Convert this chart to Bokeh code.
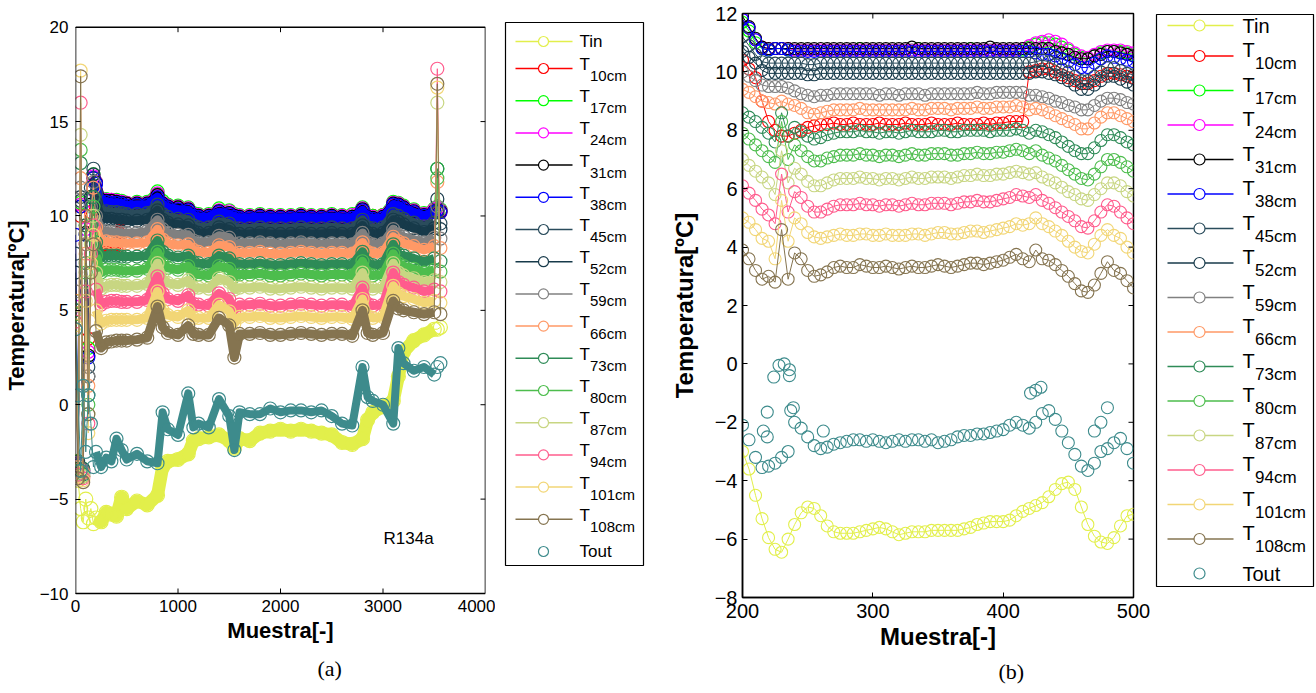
from bokeh.plotting import figure
from bokeh.layouts import row
from bokeh.models import Range1d, FixedTicker, Label, Title
from bokeh.embed import file_html
from bokeh.resources import INLINE
from bokeh.core.properties import value

SANS = "Liberation Sans"
SERIF = "Liberation Serif"

SERIES = ["Tin", "T10cm", "T17cm", "T24cm", "T31cm", "T38cm", "T45cm", "T52cm",
          "T59cm", "T66cm", "T73cm", "T80cm", "T87cm", "T94cm", "T101cm", "T108cm", "Tout"]
COLORS = ["#E2EF4B", "#FF0000", "#00FF00", "#FF00FF", "#000000", "#0000FF", "#2A4C5C", "#173A4A",
          "#808080", "#FF9966", "#2E8B57", "#4DBD4D", "#C8D682", "#FF5C8D", "#F2D676", "#857450", "#3D8B8C"]

# ---------------- panel (a): sample index 0..3560 ----------------
XA = [0, 25, 50, 75, 100, 125, 150, 175, 200,
      250, 300, 350, 400, 450, 500, 600, 700,
      800, 850, 900, 1000, 1100, 1150,
      1200, 1300, 1400, 1500, 1550, 1600, 1700, 1800, 1900, 2000, 2100, 2200, 2300, 2400, 2500, 2600, 2700,
      2800, 2850, 2900, 3000,
      3100, 3150, 3200, 3300, 3400, 3500, 3530, 3560]

A_TIN = [-3.0, -4.0, -5.5, -6.2, -5.0, -6.0, -5.5, -6.3, -6.0,
         -6.2, -5.7, -5.8, -5.9, -4.9, -5.5, -5.1, -5.3,
         -4.8, -3.3, -3.0, -2.9, -2.6, -1.9,
         -1.8, -1.7, -1.6, -1.9, -2.3, -1.8, -1.9, -1.5, -1.4, -1.3, -1.4, -1.3, -1.4, -1.5, -1.6, -2.0, -2.1,
         -1.8, -0.8, -0.4, -0.1,
         0.2, 1.5, 2.8, 3.4, 3.7, 4.0, 4.0, 4.1]
A_T10 = [4.8, -3.4, 10.0, -3.8, 8.5, 3.5, 10.2, 11.5, 10.4,
         8.3, 8.2, 8.2, 8.2, 10.0, 10.0, 10.1, 10.1,
         10.6, 10.3, 10.2, 10.1, 10.0, 9.8,
         9.85, 9.85, 10.1, 10.0, 9.85, 9.8, 9.8, 9.85, 9.8, 9.8, 9.8, 9.85, 9.8, 9.8, 9.85, 9.8, 9.8,
         10.2, 9.9, 10.0, 10.05,
         10.6, 10.55, 10.4, 10.2, 10.0, 10.2, 10.2, 10.2]
A_T17 = [5.5, -3.0, 10.7, -3.4, 9.5, 3.0, 11.0, 12.2, 11.8,
         10.9, 10.9, 10.85, 10.85, 10.8, 10.7, 10.75, 10.75,
         11.3, 10.8, 10.6, 10.55, 10.45, 10.15,
         10.1, 10.1, 10.4, 10.3, 10.1, 10.05, 10.05, 10.1, 10.05, 10.05, 10.05, 10.1, 10.05, 10.05, 10.1, 10.05, 10.1,
         10.45, 10.05, 10.0, 10.05,
         10.75, 10.7, 10.55, 10.35, 10.15, 10.4, 12.5, 10.35]
A_T24 = [5.2, -3.1, 10.6, -3.5, 9.3, 2.8, 10.8, 12.1, 11.8,
         10.9, 10.85, 10.85, 10.8, 10.75, 10.7, 10.7, 10.7,
         11.2, 10.7, 10.55, 10.5, 10.4, 10.1,
         10.05, 10.05, 10.3, 10.25, 10.05, 10.0, 10.0, 10.05, 10.0, 10.0, 10.0, 10.05, 10.0, 10.0, 10.05, 10.0, 10.05,
         10.4, 10.0, 9.95, 10.0,
         10.7, 10.65, 10.5, 10.3, 10.1, 10.35, 10.4, 10.3]
A_T31 = [5.0, -3.2, 10.5, -3.6, 9.1, 2.6, 10.6, 12.0, 11.75,
         10.85, 10.8, 10.8, 10.75, 10.7, 10.65, 10.65, 10.65,
         11.1, 10.65, 10.5, 10.45, 10.35, 10.05,
         10.0, 10.0, 10.25, 10.15, 10.0, 9.95, 9.95, 10.0, 9.95, 9.95, 9.95, 10.0, 9.95, 9.95, 10.0, 9.95, 9.95,
         10.35, 9.95, 9.9, 9.95,
         10.65, 10.6, 10.45, 10.25, 10.05, 10.25, 10.3, 10.25]
A_T38 = [9.0, -3.2, 10.5, -3.6, 9.0, 2.5, 10.5, 12.0, 11.7,
         10.75, 10.75, 10.7, 10.7, 10.65, 10.55, 10.6, 10.6,
         11.0, 10.6, 10.45, 10.35, 10.3, 10.0,
         9.95, 9.95, 10.2, 10.1, 9.95, 9.9, 9.9, 9.95, 9.9, 9.9, 9.9, 9.95, 9.9, 9.9, 9.95, 9.9, 9.9,
         10.3, 9.9, 9.85, 9.9,
         10.6, 10.55, 10.4, 10.2, 10.0, 10.2, 10.3, 10.2]
A_T45 = [8.0, -3.0, 10.8, -3.4, 9.5, 2.0, 11.5, 12.5, 11.2,
         10.25, 10.25, 10.2, 10.2, 10.15, 10.1, 10.1, 10.15,
         10.6, 10.1, 9.95, 9.85, 9.8, 9.5,
         9.4, 9.4, 9.7, 9.6, 9.35, 9.35, 9.35, 9.4, 9.35, 9.35, 9.35, 9.4, 9.35, 9.35, 9.4, 9.35, 9.35,
         9.8, 9.4, 9.35, 9.4,
         10.1, 10.0, 9.85, 9.65, 9.45, 9.65, 10.2, 9.6]
A_T52 = [7.0, -3.1, 11.0, -3.5, 9.0, 1.5, 11.0, 12.2, 10.7,
         9.9, 9.85, 9.85, 9.8, 9.8, 9.75, 9.75, 9.8,
         10.3, 9.8, 9.65, 9.55, 9.5, 9.2,
         9.1, 9.1, 9.4, 9.3, 9.05, 9.05, 9.05, 9.1, 9.05, 9.05, 9.05, 9.1, 9.05, 9.05, 9.1, 9.05, 9.05,
         9.5, 9.1, 9.05, 9.1,
         9.8, 9.7, 9.55, 9.35, 9.15, 9.35, 10.9, 9.3]
A_T59 = [6.0, -3.2, 11.5, -3.5, 8.5, 1.5, 10.5, 11.8, 10.0,
         9.2, 9.2, 9.15, 9.15, 9.1, 9.1, 9.1, 9.2,
         9.8, 9.3, 9.1, 9.0, 9.0, 8.7,
         8.6, 8.6, 8.95, 8.85, 8.5, 8.55, 8.55, 8.6, 8.55, 8.5, 8.55, 8.6, 8.55, 8.5, 8.55, 8.55, 8.5,
         9.1, 8.6, 8.5, 8.55,
         9.3, 9.0, 8.9, 8.75, 8.6, 8.85, 10.5, 8.8]
A_T66 = [5.5, -3.3, 12.0, -3.6, 8.0, 1.0, 10.0, 11.5, 9.4,
         8.6, 8.65, 8.6, 8.6, 8.55, 8.55, 8.55, 8.6,
         9.3, 8.75, 8.55, 8.45, 8.5, 8.2,
         8.1, 8.05, 8.45, 8.35, 8.0, 8.05, 8.05, 8.1, 8.0, 8.0, 8.05, 8.1, 8.05, 8.0, 8.05, 8.05, 8.0,
         8.6, 8.1, 8.0, 8.05,
         8.9, 8.65, 8.55, 8.4, 8.2, 8.4, 11.8, 8.3]
A_T73 = [5.0, -3.4, 12.8, -3.7, 7.5, 0.5, 9.5, 11.0, 8.6,
         7.8, 7.9, 7.9, 7.9, 7.85, 7.85, 7.85, 7.9,
         8.7, 8.1, 7.9, 7.8, 7.9, 7.55,
         7.5, 7.45, 7.9, 7.75, 7.4, 7.45, 7.45, 7.5, 7.4, 7.4, 7.45, 7.5, 7.45, 7.4, 7.45, 7.45, 7.4,
         8.1, 7.5, 7.4, 7.45,
         8.5, 8.0, 7.9, 7.75, 7.55, 7.75, 12.5, 7.6]
A_T80 = [4.8, -3.5, 13.5, -3.8, 7.0, 0.0, 9.0, 10.5, 7.9,
         7.0, 7.15, 7.15, 7.15, 7.1, 7.1, 7.1, 7.2,
         8.1, 7.45, 7.25, 7.15, 7.35, 6.95,
         6.9, 6.85, 7.35, 7.2, 6.8, 6.9, 6.9, 6.95, 6.85, 6.85, 6.9, 6.95, 6.9, 6.85, 6.9, 6.9, 6.85,
         7.6, 6.95, 6.85, 6.9,
         8.0, 7.5, 7.35, 7.2, 7.0, 7.15, 12.0, 7.05]
A_T87 = [4.6, -3.6, 14.3, -3.8, 6.5, -0.5, 8.5, 10.0, 7.0,
         6.15, 6.3, 6.35, 6.35, 6.3, 6.3, 6.3, 6.4,
         7.5, 6.7, 6.45, 6.35, 6.6, 6.2,
         6.2, 6.15, 6.7, 6.5, 6.1, 6.2, 6.2, 6.25, 6.15, 6.15, 6.2, 6.25, 6.2, 6.15, 6.2, 6.2, 6.15,
         7.0, 6.25, 6.15, 6.2,
         7.5, 7.0, 6.85, 6.7, 6.5, 6.6, 16.0, 6.5]
A_T94 = [4.4, -3.7, 16.0, -3.9, 6.0, -1.0, 8.0, 9.5, 6.1,
         5.3, 5.45, 5.5, 5.5, 5.45, 5.45, 5.45, 5.55,
         6.8, 5.9, 5.6, 5.5, 5.8, 5.35,
         5.3, 5.25, 5.9, 5.6, 5.0, 5.3, 5.3, 5.35, 5.25, 5.25, 5.3, 5.35, 5.3, 5.25, 5.3, 5.3, 5.2,
         6.2, 5.35, 5.25, 5.3,
         7.0, 6.5, 6.35, 6.2, 6.0, 6.1, 17.8, 6.0]
A_T101 = [4.2, -3.8, 17.7, -4.0, 5.5, -1.5, 7.5, 9.0, 5.0,
          4.3, 4.45, 4.5, 4.5, 4.5, 4.5, 4.5, 4.6,
          6.0, 5.0, 4.75, 4.65, 5.0, 4.6,
          4.6, 4.6, 5.3, 4.95, 4.3, 4.65, 4.65, 4.7, 4.6, 4.6, 4.65, 4.7, 4.65, 4.6, 4.65, 4.65, 4.55,
          5.6, 4.7, 4.6, 4.65,
          6.3, 5.9, 5.75, 5.6, 5.4, 5.5, 16.8, 5.4]
A_T108 = [4.0, -3.9, 17.4, -4.1, 10.0, -0.5, 7.0, 8.5, 3.9,
          3.0, 3.3, 3.35, 3.4, 3.4, 3.4, 3.45, 3.55,
          5.2, 4.1, 3.8, 3.7, 4.2, 3.75,
          3.7, 3.7, 4.6, 4.2, 2.5, 3.75, 3.75, 3.8, 3.7, 3.7, 3.75, 3.8, 3.75, 3.7, 3.75, 3.75, 3.65,
          5.0, 3.8, 3.7, 3.8,
          5.5, 5.1, 5.0, 4.9, 4.8, 4.9, 17.0, 4.8]
A_TOUT = [4.0, 0.5, -3.5, 1.0, -2.5, 0.5, -1.0, -3.3, -2.5,
          -3.3, -2.8, -3.0, -1.8, -2.4, -2.9, -2.6, -3.0,
          -3.1, -0.4, -1.3, -1.6, 0.6, -1.2,
          -1.0, -1.2, 0.3, -0.6, -2.4, -0.4, -0.5, -0.5, -0.2, -0.4, -0.3, -0.3, -0.4, -0.3, -0.6, -1.0, -1.1,
          2.0, 0.4, 0.2, 0.0,
          -1.0, 3.0, 2.2, 1.8, 2.0, 1.6, 2.0, 2.2]

A_DATA = [A_TIN, A_T10, A_T17, A_T24, A_T31, A_T38, A_T45, A_T52, A_T59, A_T66,
          A_T73, A_T80, A_T87, A_T94, A_T101, A_T108, A_TOUT]

# ---------------- panel (b): sample index 200..500 ----------------
XB = list(range(200, 501, 5))

B_TIN = [-3.0, -3.6, -4.5, -5.3, -5.95, -6.35, -6.45, -6.0, -5.5, -5.1,
         -4.9, -4.95, -5.2, -5.55, -5.75, -5.8, -5.8, -5.8, -5.75, -5.7,
         -5.65, -5.6, -5.65, -5.75, -5.85, -5.8, -5.75, -5.75, -5.75, -5.7,
         -5.7, -5.7, -5.7, -5.7, -5.65, -5.6, -5.5, -5.45, -5.4, -5.4,
         -5.4, -5.35, -5.2, -5.05, -4.95, -4.85, -4.75, -4.55, -4.3, -4.1,
         -4.05, -4.3, -4.9, -5.5, -5.9, -6.1, -6.15, -5.95, -5.55, -5.2,
         -5.15]
B_T10 = [10.4, 10.1, 9.8, 9.0, 8.3, 8.0, 7.8, 7.8, 7.9, 8.0,
         8.1, 8.15, 8.2, 8.2, 8.25, 8.2, 8.2, 8.25, 8.2, 8.2,
         8.2, 8.25, 8.2, 8.2, 8.2, 8.25, 8.2, 8.2, 8.2, 8.25,
         8.2, 8.2, 8.2, 8.25, 8.2, 8.2, 8.2, 8.25, 8.2, 8.25,
         8.25, 8.3, 8.3, 8.3, 10.0, 10.05, 10.1, 10.1, 10.0, 9.9,
         9.8, 9.7, 9.6, 9.6, 9.7, 9.85, 9.95, 9.95, 9.9, 9.85,
         9.8]
B_T17 = [11.7, 11.4, 11.0, 10.8, 10.75, 10.8, 10.8, 10.75, 10.75, 10.75,
         10.75, 10.75, 10.7, 10.75, 10.75, 10.75, 10.75, 10.75, 10.8, 10.75,
         10.75, 10.75, 10.75, 10.75, 10.75, 10.75, 10.75, 10.8, 10.75, 10.75,
         10.75, 10.75, 10.75, 10.75, 10.75, 10.8, 10.75, 10.75, 10.75, 10.75,
         10.75, 10.75, 10.75, 10.75, 10.85, 10.95, 11.0, 11.0, 10.95, 10.85,
         10.75, 10.6, 10.5, 10.45, 10.55, 10.65, 10.7, 10.7, 10.7, 10.65,
         10.6]
B_T24 = [11.8, 11.5, 11.1, 10.85, 10.8, 10.8, 10.8, 10.8, 10.75, 10.75,
         10.75, 10.75, 10.75, 10.75, 10.75, 10.75, 10.75, 10.75, 10.75, 10.75,
         10.75, 10.75, 10.75, 10.75, 10.75, 10.75, 10.75, 10.75, 10.75, 10.75,
         10.75, 10.75, 10.75, 10.75, 10.75, 10.75, 10.75, 10.75, 10.75, 10.75,
         10.75, 10.75, 10.75, 10.8, 10.9, 11.0, 11.05, 11.1, 11.05, 10.95,
         10.8, 10.65, 10.55, 10.5, 10.6, 10.7, 10.75, 10.75, 10.75, 10.7,
         10.65]
B_T31 = [11.9, 11.55, 11.15, 10.85, 10.8, 10.8, 10.8, 10.8, 10.8, 10.8,
         10.8, 10.8, 10.8, 10.8, 10.8, 10.8, 10.8, 10.8, 10.8, 10.8,
         10.8, 10.8, 10.8, 10.8, 10.8, 10.8, 10.85, 10.8, 10.8, 10.8,
         10.8, 10.8, 10.8, 10.8, 10.8, 10.8, 10.8, 10.8, 10.85, 10.8,
         10.8, 10.8, 10.8, 10.8, 10.8, 10.8, 10.8, 10.8, 10.7, 10.65,
         10.6, 10.5, 10.45, 10.45, 10.55, 10.6, 10.7, 10.7, 10.65, 10.6,
         10.55]
B_T38 = [11.8, 11.5, 11.1, 10.8, 10.75, 10.8, 10.8, 10.75, 10.7, 10.7,
         10.7, 10.7, 10.7, 10.7, 10.7, 10.7, 10.7, 10.7, 10.7, 10.7,
         10.7, 10.7, 10.7, 10.7, 10.7, 10.7, 10.7, 10.7, 10.7, 10.7,
         10.7, 10.7, 10.7, 10.7, 10.7, 10.7, 10.7, 10.7, 10.7, 10.7,
         10.7, 10.7, 10.7, 10.7, 10.7, 10.65, 10.6, 10.6, 10.55, 10.45,
         10.35, 10.25, 10.15, 10.15, 10.3, 10.45, 10.55, 10.5, 10.45, 10.4,
         10.35]
B_T45 = [11.2, 10.9, 10.6, 10.35, 10.3, 10.3, 10.3, 10.3, 10.3, 10.3,
         10.25, 10.25, 10.3, 10.3, 10.3, 10.3, 10.3, 10.3, 10.3, 10.3,
         10.3, 10.3, 10.3, 10.3, 10.3, 10.3, 10.3, 10.3, 10.3, 10.3,
         10.3, 10.3, 10.3, 10.3, 10.3, 10.3, 10.3, 10.3, 10.3, 10.3,
         10.3, 10.3, 10.3, 10.3, 10.3, 10.35, 10.4, 10.35, 10.25, 10.1,
         10.0, 9.85, 9.7, 9.7, 9.85, 10.0, 10.15, 10.15, 10.05, 9.95,
         9.9]
B_T52 = [10.7, 10.5, 10.3, 10.05, 9.95, 9.95, 9.95, 9.95, 9.95, 9.95,
         9.9, 9.9, 9.95, 9.95, 9.95, 9.95, 9.95, 9.95, 9.95, 9.95,
         9.95, 9.95, 9.95, 9.95, 9.95, 9.95, 9.95, 9.95, 9.95, 9.95,
         9.95, 9.95, 9.95, 9.95, 9.95, 9.95, 9.95, 9.95, 9.95, 9.95,
         9.95, 9.95, 9.95, 9.95, 9.95, 10.0, 10.0, 9.95, 9.9, 9.8,
         9.7, 9.55, 9.4, 9.4, 9.55, 9.7, 9.85, 9.85, 9.75, 9.65,
         9.55]
B_T59 = [10.0, 9.85, 9.7, 9.55, 9.5, 9.5, 9.5, 9.45, 9.35, 9.25,
         9.2, 9.15, 9.2, 9.2, 9.25, 9.25, 9.25, 9.25, 9.25, 9.25,
         9.25, 9.2, 9.25, 9.25, 9.2, 9.25, 9.25, 9.25, 9.2, 9.25,
         9.25, 9.25, 9.25, 9.25, 9.25, 9.25, 9.3, 9.25, 9.25, 9.3,
         9.3, 9.3, 9.3, 9.3, 9.2, 9.2, 9.15, 9.1, 9.0, 8.95,
         8.85, 8.8, 8.7, 8.7, 8.85, 9.0, 9.1, 9.1, 9.05, 8.95,
         8.9]
B_T66 = [9.4, 9.3, 9.15, 9.0, 8.95, 8.9, 9.0, 8.9, 8.85, 8.75,
         8.6, 8.55, 8.6, 8.65, 8.7, 8.7, 8.7, 8.7, 8.75, 8.7,
         8.7, 8.7, 8.7, 8.7, 8.7, 8.7, 8.75, 8.7, 8.7, 8.75,
         8.75, 8.75, 8.7, 8.75, 8.75, 8.75, 8.8, 8.75, 8.75, 8.8,
         8.8, 8.8, 8.85, 8.8, 8.7, 8.75, 8.7, 8.6, 8.5, 8.4,
         8.3, 8.2, 8.05, 8.05, 8.25, 8.45, 8.6, 8.6, 8.5, 8.4,
         8.3]
B_T73 = [8.6, 8.45, 8.3, 8.1, 7.9, 7.6, 8.6, 7.8, 8.1, 7.95,
         7.8, 7.7, 7.75, 7.85, 7.9, 7.95, 7.95, 7.95, 8.0, 7.95,
         7.95, 7.9, 7.95, 7.95, 7.9, 7.95, 8.0, 7.95, 7.95, 7.95,
         8.0, 8.0, 7.95, 7.95, 8.0, 8.0, 8.0, 8.0, 7.95, 8.0,
         8.0, 8.0, 8.05, 8.0, 7.9, 8.0, 7.95, 7.85, 7.75, 7.6,
         7.45, 7.3, 7.2, 7.2, 7.4, 7.65, 7.85, 7.85, 7.75, 7.6,
         7.5]
B_T80 = [7.9, 7.7, 7.5, 7.3, 7.1, 6.9, 8.3, 7.0, 7.5, 7.3,
         7.1, 6.95, 6.95, 7.05, 7.1, 7.15, 7.15, 7.15, 7.2, 7.15,
         7.15, 7.1, 7.15, 7.15, 7.1, 7.15, 7.2, 7.15, 7.15, 7.2,
         7.2, 7.2, 7.15, 7.15, 7.2, 7.2, 7.25, 7.2, 7.2, 7.25,
         7.25, 7.3, 7.35, 7.3, 7.2, 7.3, 7.15, 7.05, 6.95, 6.8,
         6.65, 6.5, 6.35, 6.3, 6.5, 6.75, 7.0, 7.0, 6.9, 6.75,
         6.6]
B_T87 = [7.0, 6.8, 6.6, 6.4, 6.2, 5.8, 7.3, 6.2, 6.7, 6.5,
         6.25, 6.1, 6.1, 6.2, 6.3, 6.35, 6.35, 6.35, 6.4, 6.35,
         6.35, 6.3, 6.35, 6.35, 6.3, 6.35, 6.4, 6.35, 6.35, 6.4,
         6.4, 6.4, 6.35, 6.4, 6.45, 6.45, 6.5, 6.45, 6.45, 6.5,
         6.5, 6.55, 6.6, 6.55, 6.5, 6.55, 6.4, 6.3, 6.2, 6.05,
         5.9, 5.8, 5.65, 5.6, 5.8, 6.0, 6.2, 6.2, 6.1, 5.9,
         5.75]
B_T94 = [6.1, 5.85, 5.6, 5.3, 5.1, 4.8, 6.5, 5.2, 5.9, 5.7,
         5.4, 5.2, 5.2, 5.3, 5.4, 5.45, 5.45, 5.45, 5.5, 5.45,
         5.45, 5.4, 5.45, 5.45, 5.4, 5.45, 5.5, 5.45, 5.45, 5.5,
         5.5, 5.5, 5.45, 5.5, 5.55, 5.55, 5.6, 5.55, 5.55, 5.6,
         5.65, 5.7, 5.8, 5.75, 5.7, 5.8, 5.6, 5.5, 5.35, 5.2,
         5.05, 4.9, 4.7, 4.65, 4.9, 5.2, 5.45, 5.4, 5.2, 5.0,
         4.8]
B_T101 = [5.0, 4.85, 4.6, 4.3, 4.2, 3.6, 5.6, 4.2, 5.0, 4.8,
          4.5, 4.35, 4.3, 4.35, 4.4, 4.45, 4.4, 4.4, 4.45, 4.45,
          4.4, 4.4, 4.45, 4.4, 4.4, 4.4, 4.45, 4.45, 4.4, 4.45,
          4.5, 4.5, 4.45, 4.45, 4.5, 4.55, 4.55, 4.5, 4.55, 4.6,
          4.65, 4.7, 4.8, 4.75, 4.8, 5.0, 4.8, 4.7, 4.55, 4.4,
          4.2, 4.0, 3.85, 3.8, 4.1, 4.4, 4.6, 4.4, 4.3, 4.0,
          3.8]
B_T108 = [3.9, 3.6, 3.2, 2.9, 3.0, 2.8, 4.6, 2.9, 3.8, 3.6,
          3.2, 3.0, 3.05, 3.15, 3.3, 3.35, 3.3, 3.3, 3.4, 3.35,
          3.3, 3.3, 3.35, 3.3, 3.25, 3.3, 3.35, 3.3, 3.3, 3.35,
          3.4, 3.35, 3.3, 3.35, 3.4, 3.45, 3.45, 3.4, 3.45, 3.5,
          3.55, 3.65, 3.75, 3.6, 3.5, 3.9, 3.6, 3.55, 3.4, 3.2,
          3.0, 2.75, 2.5, 2.45, 2.7, 3.1, 3.5, 3.2, 3.1, 2.85,
          2.6]
B_TOUT = [-2.1, -2.6, -3.2, -3.55, -3.5, -3.4, -3.2, -3.0, -2.0, -2.2,
          -2.5, -2.8, -2.9, -2.85, -2.75, -2.7, -2.65, -2.6, -2.6, -2.65,
          -2.6, -2.65, -2.7, -2.65, -2.6, -2.65, -2.6, -2.6, -2.65, -2.6,
          -2.7, -2.65, -2.6, -2.5, -2.45, -2.45, -2.4, -2.4, -2.35, -2.3,
          -2.25, -2.1, -2.0, -2.1, -2.2, -2.0, -1.7, -1.6, -1.9, -2.3,
          -2.7, -3.1, -3.5, -3.65, -3.4, -3.0, -2.9, -2.7, -2.55, -2.9,
          -3.4]
B_TOUT_EXTRA_X = [216, 219, 219, 224, 228, 232, 236, 236, 237, 239, 262, 421, 425, 429, 470, 475, 480]
B_TOUT_EXTRA_Y = [-2.3, -1.65, -2.5, -0.45, -0.05, 0.0, -0.2, -0.4, -1.6, -1.5, -2.3, -1.0, -0.9, -0.8, -2.3, -2.0, -1.5]

B_DATA = [B_TIN, B_T10, B_T17, B_T24, B_T31, B_T38, B_T45, B_T52, B_T59, B_T66,
          B_T73, B_T80, B_T87, B_T94, B_T101, B_T108, B_TOUT]

for arr in A_DATA:
    assert len(arr) == len(XA), len(arr)
for arr in B_DATA:
    assert len(arr) == len(XB), len(arr)

TICKS_AX = [0, 1000, 2000, 3000, 4000]
TICKS_AY = [-10, -5, 0, 5, 10, 15, 20]
TICKS_BX = [200, 300, 400, 500]
TICKS_BY = [-8, -6, -4, -2, 0, 2, 4, 6, 8, 10, 12]
BOX_A = (0, 4000, -10, 20)      # axes box of panel (a)
BOX_B = (200, 500, -8, 12)      # axes box of panel (b)

# page geometry (page origin is the top-left corner of the canvas row)
H = 692
TOP = 13                 # frame top (shared by all figures of the row)
BOTTOM = H - 597         # frame bottom at y = 597


def base_fig(width, xr, yr, bl, br):
    p = figure(width=width, height=H, x_range=Range1d(*xr), y_range=Range1d(*yr),
               output_backend="svg", toolbar_location=None, title=None,
               min_border_left=bl, min_border_right=br, min_border_top=TOP, min_border_bottom=BOTTOM)
    p.xgrid.visible = False
    p.ygrid.visible = False
    p.background_fill_color = "white"
    p.border_fill_color = "white"
    return p


def style_axes(p, xt, yt, tick_fs, lab_fs, xstand, ystand, xlabstand, ylabstand):
    for ax, ticks, stand, labstand in ((p.xaxis[0], xt, xstand, xlabstand), (p.yaxis[0], yt, ystand, ylabstand)):
        ax.ticker = FixedTicker(ticks=ticks)
        ax.major_tick_in = 5
        ax.major_tick_out = 0
        ax.minor_tick_line_color = None
        ax.axis_line_width = 1.5
        ax.major_tick_line_width = 1
        ax.major_label_standoff = stand
        ax.major_label_text_font = SANS
        ax.major_label_text_font_size = tick_fs
        ax.major_label_text_color = "black"
        ax.axis_label_text_font = SANS
        ax.axis_label_text_font_size = lab_fs
        ax.axis_label_text_font_style = "bold"
        ax.axis_label_text_color = "black"
        ax.axis_label_standoff = labstand
    p.xaxis[0].axis_label = "Muestra[-]"
    p.yaxis[0].axis_label = "Temperatura[ºC]"


def caption(p, text, offset, standoff):
    t = Title(text=text, align="left", offset=offset, standoff=standoff, text_font=SERIF,
              text_font_size="22px", text_font_style="normal", text_color="black",
              vertical_align="bottom")
    p.add_layout(t, "below")


# ---------------- panel (a) ----------------
# the shared frame spans y 13..597; the data box -10..20 sits at y 593..26.7
PXA = 18.877             # px per degree in panel (a)
pa = base_fig(495, (0, 4000), (-10 - 4 / PXA, 20 + 13.7 / PXA), 75, 10)
style_axes(pa, TICKS_AX, TICKS_AY, "17px", "22px", 2, 7, 3, 8)
pa.outline_line_color = None
pa.xaxis[0].axis_line_color = None
pa.xaxis[0].major_tick_line_color = None
pa.yaxis[0].axis_line_color = None

dya = 5 / PXA
dxa = 5 / 0.1025
x0, x1, y0, y1 = BOX_A
for name, col, ys in zip(SERIES, COLORS, A_DATA):
    pa.line(XA, ys, line_color=col, line_width=1)
    wide = 13 if name == "Tin" else (8 if name == "Tout" else 9)
    pa.line(XA[8:50], ys[8:50], line_color=col, line_width=wide, line_join="round")
    pa.scatter(XA, ys, marker="circle", size=14 if name == "Tin" else 13, fill_color=None,
               line_color=col, line_width=1.2)
pa.segment(x0=[x0, x0, x0, x1], y0=[y0, y1, y0, y0], x1=[x1, x1, x0, x1], y1=[y0, y1, y1, y1],
           line_color="black", line_width=1.6)
inner_x = TICKS_AX[1:-1]
pa.segment(x0=inner_x, y0=[y0] * len(inner_x), x1=inner_x, y1=[y0 + dya] * len(inner_x), line_color="black")
pa.segment(x0=inner_x, y0=[y1] * len(inner_x), x1=inner_x, y1=[y1 - dya] * len(inner_x), line_color="black")
inner_y = TICKS_AY[1:-1]
pa.segment(x0=[x1] * len(inner_y), y0=inner_y, x1=[x1 - dxa] * len(inner_y), y1=inner_y, line_color="black")

pa.add_layout(Label(x=3005, y=-7.1, text="R134a", text_font=SANS, text_font_size="17px",
                    text_baseline="middle", text_align="left", text_color="black"))
caption(pa, "(a)", 242, 17)

# ---------------- panel (b) ----------------
pb = base_fig(495, (200, 500), (-8, 12), 87, 17)
style_axes(pb, TICKS_BX, TICKS_BY, "20px", "24px", 6, 5, 2, 14)
pb.outline_line_color = "black"
pb.outline_line_width = 1.5
for name, col, ys in zip(SERIES, COLORS, B_DATA):
    if name != "Tout":
        pb.line(XB, ys, line_color=col, line_width=1)
    pb.scatter(XB, ys, marker="circle", size=12, fill_color=None, line_color=col, line_width=1.1)
pb.scatter(B_TOUT_EXTRA_X, B_TOUT_EXTRA_Y, marker="circle", size=12, fill_color=None,
           line_color=COLORS[-1], line_width=1.1)
bx0, bx1, by0, by1 = BOX_B
dyb = 5 / 29.2
dxb = 5 / 1.303
inner_bx = TICKS_BX[1:-1]
pb.segment(x0=inner_bx, y0=[by1] * len(inner_bx), x1=inner_bx, y1=[by1 - dyb] * len(inner_bx), line_color="black")
inner_by = TICKS_BY[1:-1]
pb.segment(x0=[bx1] * len(inner_by), y0=inner_by, x1=[bx1 - dxb] * len(inner_by), y1=inner_by, line_color="black")
caption(pb, "(b)", 256, 9)


# ---------------- legends (page-pixel coordinates inside their own figures) ----------------
def make_legend(width, box, lx0, lx1, cx, tx, y_first, y_second, step, fs, sfs, sub_dx,
                t_dy, s_dy, csize):
    lg = figure(width=width, height=H, x_range=Range1d(0, width), y_range=Range1d(H - BOTTOM, TOP),
                output_backend="svg", toolbar_location=None, title=None,
                min_border_left=0, min_border_right=0, min_border_top=TOP, min_border_bottom=BOTTOM,
                x_axis_type=None, y_axis_type=None)
    lg.xgrid.visible = False
    lg.ygrid.visible = False
    lg.outline_line_color = None
    lg.background_fill_color = "white"
    lg.border_fill_color = "white"
    lg.quad(left=[box[0]], right=[box[1]], top=[box[2]], bottom=[box[3]],
            fill_color=None, line_color="black", line_width=1.2)
    ys = [y_first] + [y_second + i * step for i in range(len(SERIES) - 1)]
    for name, col, y in zip(SERIES, COLORS, ys):
        if name != "Tout":
            lg.segment(x0=[lx0], y0=[y], x1=[lx1], y1=[y], line_color=col, line_width=1.5)
        lg.scatter([cx], [y], marker="circle", size=csize, fill_color="white", line_color=col, line_width=1.2)
        if name in ("Tin", "Tout"):
            lg.text([tx], [y], text=[name], text_font=value(SANS), text_font_size=value(fs),
                    text_baseline="middle", text_align="left", text_color="black")
        else:
            lg.text([tx], [y + t_dy], text=["T"], text_font=value(SANS), text_font_size=value(fs),
                    text_baseline="middle", text_align="left", text_color="black")
            lg.text([tx + sub_dx], [y + s_dy], text=[name[1:]], text_font=value(SANS),
                    text_font_size=value(sfs), text_baseline="middle", text_align="left",
                    text_color="black")
    return lg


la = make_legend(160, (10, 148, 22, 565), 20, 77, 48, 84, 41, 68, 32.2,
                 "17px", "15px", 10.5, -4, 7, 10)
lb = make_legend(166, (6, 163, 14, 586), 17, 83, 49, 92, 25, 55.5, 34.5,
                 "20px", "17px", 12.5, -6, 7.5, 11)

layout = row(pa, la, pb, lb)
open("out.html", "w").write(file_html(layout, INLINE))
